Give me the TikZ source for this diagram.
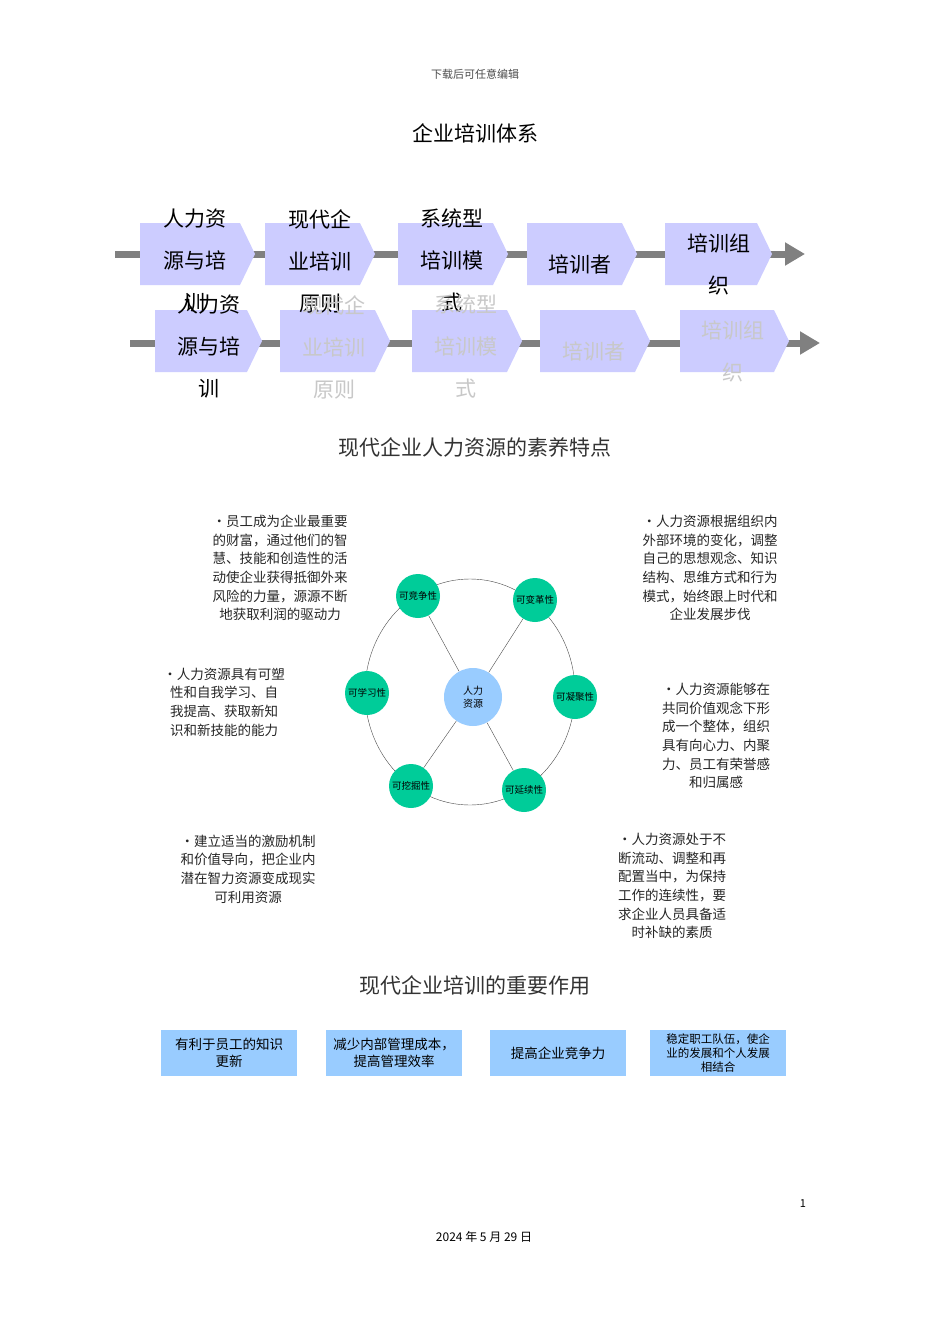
\documentclass[tikz,border=0pt]{standalone}
\usepackage{fontspec}
\setmainfont{Noto Sans CJK SC}
\usetikzlibrary{arrows.meta,shapes.geometric}
\definecolor{chev}{HTML}{CCCCFF}
\definecolor{lineg}{HTML}{808080}
\definecolor{grn}{HTML}{00CC99}
\definecolor{blu}{HTML}{99CCFF}
\definecolor{faint}{HTML}{C8C8C8}
\tikzset{
 chevbox/.style={fill=chev,draw=none},
 big/.style={font=\fontsize{21}{42}\selectfont,align=center,inner sep=0},
 para/.style={font=\fontsize{13.5}{18.6}\selectfont,align=center,inner sep=0,text=black!85},
 ring/.style={circle,fill=grn,minimum size=44pt,inner sep=0,font=\fontsize{9.5}{11}\selectfont},
 effbox/.style={fill=blu,minimum width=136pt,minimum height=46pt,inner sep=1pt,align=center,font=\fontsize{13.5}{17}\selectfont},
 ttl/.style={font=\fontsize{21}{24}\selectfont,text=black!80}
}
\newcommand{\chevron}[3]{% x1 x2 yc
 \fill[chevbox] (#1,#3-31) -- (#2-15,#3-31) -- (#2,#3) -- (#2-15,#3+31) -- (#1,#3+31) -- cycle;}
\begin{document}
\begin{tikzpicture}[x=1pt,y=-1pt]
\useasboundingbox[fill=white] (0,0) rectangle (950,1344);
\node[font=\fontsize{11}{12}\selectfont,text=black!70] (hdr) at (475,74) {下载后可任意编辑};
\node[ttl,text=black] (t1) at (475,133) {企业培训体系};
% row 1
\coordinate (r1s) at (115,254); \coordinate (r1e) at (805,254);
\draw[lineg,line width=7pt,-{Triangle[length=20pt,width=22pt]}] (r1s) -- (r1e);
\chevron{140}{255}{254}\chevron{265}{375}{254}\chevron{398}{508}{254}\chevron{527}{637}{254}\chevron{665}{772}{254}
% row 2
\coordinate (r2s) at (130,343); \coordinate (r2e) at (820,343);
\draw[lineg,line width=7pt,-{Triangle[length=20pt,width=22pt]}] (r2s) -- (r2e);
\chevron{155}{262}{341}\chevron{280}{390}{341}\chevron{412}{522}{341}\chevron{540}{650}{341}\chevron{680}{789}{341}
% row 1 text
\node[big,anchor=north] (a1) at (195,209) {人力资\\源与培\\训};
\node[big,anchor=north] (a2) at (320,209) {现代企\\业培训\\原则};
\node[big,anchor=north] (a3) at (452,209) {系统型\\培训模\\式};
\node[big] (a4) at (580,264) {培训者};
\node[big] (a5) at (719,264) {培训组\\织};
% row 2 text
\node[big,anchor=north] (b1) at (209,295) {人力资\\源与培\\训};
\node[big,anchor=north,text=faint] (b2) at (334,295) {现代企\\业培训\\原则};
\node[big,anchor=north,text=faint] (b3) at (466,295) {系统型\\培训模\\式};
\node[big,text=faint] (b4) at (594,351) {培训者};
\node[big,text=faint] (b5) at (733,351) {培训组\\织};
\node[ttl] (t2) at (475,447) {现代企业人力资源的素养特点};
% circle diagram
\node[draw=black!70,ellipse,minimum width=210pt,minimum height=226pt,inner sep=0] (ell) at (470,692) {};
\node[circle,fill=blu,minimum size=58pt,inner sep=0,font=\fontsize{10}{13}\selectfont,align=center] (c) at (473,697) {人力\\资源};
\node[ring] (k1) at (418,596) {可竞争性};
\node[ring] (k2) at (535,600) {可变革性};
\node[ring] (k3) at (575,697) {可凝聚性};
\node[ring] (k4) at (524,790) {可延续性};
\node[ring] (k5) at (411,786) {可挖掘性};
\node[ring] (k6) at (367,693) {可学习性};
\foreach \k in {k1,k2,k4,k5} \draw[black!70] (c) -- (\k);
% paragraphs
\node[para] (p1) at (280,568) {•员工成为企业最重要\\的财富，通过他们的智\\慧、技能和创造性的活\\动使企业获得抵御外来\\风险的力量，源源不断\\地获取利润的驱动力};
\node[para] (p2) at (710,568) {•人力资源根据组织内\\外部环境的变化，调整\\自己的思想观念、知识\\结构、思维方式和行为\\模式，始终跟上时代和\\企业发展步伐};
\node[para] (p3) at (224,702) {•人力资源具有可塑\\性和自我学习、自\\我提高、获取新知\\识和新技能的能力};
\node[para] (p4) at (716,736) {•人力资源能够在\\共同价值观念下形\\成一个整体，组织\\具有向心力、内聚\\力、员工有荣誉感\\和归属感};
\node[para] (p5) at (248,869) {•建立适当的激励机制\\和价值导向，把企业内\\潜在智力资源变成现实\\可利用资源};
\node[para] (p6) at (672,886) {•人力资源处于不\\断流动、调整和再\\配置当中，为保持\\工作的连续性，要\\求企业人员具备适\\时补缺的素质};
\node[ttl] (t3) at (475,985) {现代企业培训的重要作用};
\node[effbox] (e1) at (229,1053) {有利于员工的知识\\更新};
\node[effbox] (e2) at (394,1053) {减少内部管理成本，\\提高管理效率};
\node[effbox] (e3) at (558,1053) {提高企业竞争力};
\node[effbox,font=\fontsize{11.5}{14}\selectfont] (e4) at (718,1053) {稳定职工队伍，使企\\业的发展和个人发展\\相结合};
\node[font=\fontsize{11}{12}\selectfont] (pg) at (803,1204) {1};
\node[font=\fontsize{12}{13}\selectfont] (dt) at (484,1237) {2024 年 5 月 29 日};
\end{tikzpicture}
\end{document}
